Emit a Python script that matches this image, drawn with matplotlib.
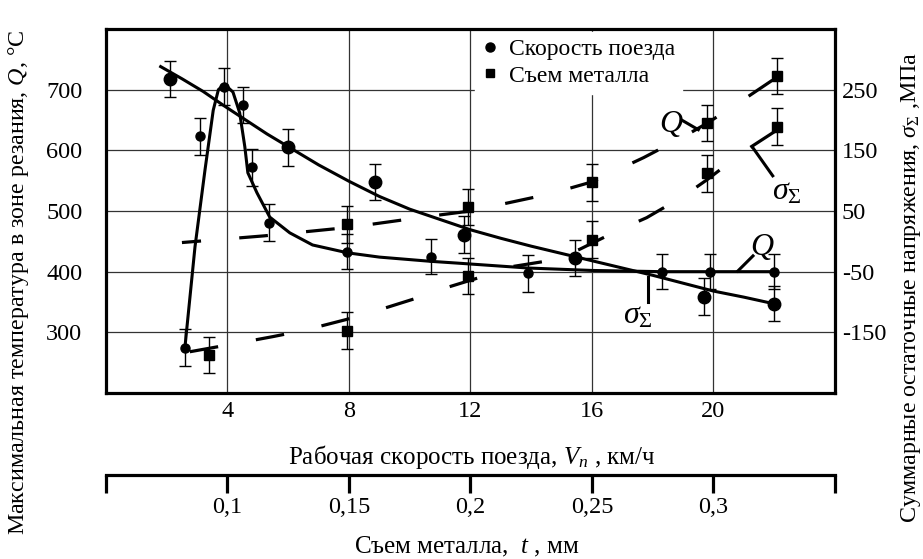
import numpy as np
import matplotlib.pyplot as plt
from matplotlib.lines import Line2D

plt.rcParams['font.family'] = ['Liberation Serif', 'DejaVu Serif']
plt.rcParams['mathtext.fontset'] = 'custom'
plt.rcParams['mathtext.rm'] = 'Liberation Serif'
plt.rcParams['mathtext.it'] = 'Liberation Serif:italic'
plt.rcParams['axes.unicode_minus'] = False

# ---- circles: train speed V (km/h) ----
# temperature Q (deg C), small circles
v_q = [2.6, 3.1, 3.9, 4.5, 4.8, 5.35, 7.95, 10.7, 13.9, 18.3, 19.9, 22.0]
q_v = [275, 623, 705, 675, 572, 481, 433, 425, 397, 400, 400, 400]
q_v_err = [30, 30, 30, 30, 30, 30, 29, 29, 30, 29, 29, 29]
# residual stress sigma (MPa), large circles
v_s = [2.1, 6.0, 8.85, 11.8, 15.45, 19.7, 22.0]
s_v = [268, 155, 98, 11, -27, -91, -103]
s_v_err = [30, 30, 30, 30, 30, 30, 29]

# fitted curves
v_q_curve = [2.6, 2.93, 3.26, 3.53, 3.7, 3.9, 4.18, 4.4, 4.57, 4.67, 4.97, 5.39,
             6.05, 6.8, 7.96, 9.0, 10.7, 11.6, 13.9, 16.0, 18.3, 22.0]
q_curve = [276, 441, 568, 666, 700, 709, 696, 662, 606, 563, 530, 490,
           464, 444, 431, 424, 417, 414, 406, 402, 400, 400]
v_s_curve = [1.8, 2.5, 3.2, 3.9, 4.6, 5.3, 6.0, 7.0, 8.0, 9.0, 10.0, 11.0, 12.0,
             13.0, 14.0, 15.0, 16.0, 17.0, 18.0, 19.0, 20.0, 21.0, 22.0]
s_curve = [288, 268, 247, 223, 200, 177, 156, 126, 99, 74, 53, 36, 19,
           5, -8, -20, -32, -44, -56, -69, -82, -92, -103]

# ---- squares: metal removal t (mm) ----
t_q = [0.149, 0.199, 0.25, 0.2975, 0.326]
q_t = [478, 507, 547, 645, 723]
q_t_err = [30, 30, 30, 30, 30]
t_s = [0.0925, 0.149, 0.199, 0.25, 0.2975, 0.326]
s_t = [-187, -147, -57, 3, 112, 189]
s_t_err = [30, 30, 30, 30, 30, 30]

t_q_curve = [0.08125, 0.115, 0.15, 0.1825, 0.2, 0.215, 0.2325, 0.25, 0.27125,
             0.2875, 0.2975, 0.3125, 0.32625]
q_t_curve = [448, 459, 473, 491, 500, 513, 528, 548, 588, 622, 645, 684, 721]
t_s_curve = [0.0845, 0.10125, 0.11875, 0.13125, 0.14875, 0.16, 0.1775, 0.18875,
             0.205, 0.215, 0.23375, 0.245, 0.26125, 0.2725, 0.2875, 0.2975,
             0.3125, 0.3275]
s_t_curve = [-182, -170, -157, -147, -129, -116, -94, -78, -58, -43, -31, -13,
             19, 39, 74, 102, 148, 187]

v_ticks = [4, 8, 12, 16, 20]
q_ticks = [300, 400, 500, 600, 700]
s_ticks = [-150, -50, 50, 150, 250]
t_ticks = [0.05, 0.1, 0.15, 0.2, 0.25, 0.3, 0.35]
t_labels = ['', '0,1', '0,15', '0,2', '0,25', '0,3', '']

W, H = 923, 559
fig = plt.figure(figsize=(W / 100, H / 100), dpi=100)
L, R, T, B = 106, 835, 29, 393
pos = [L / W, 1 - B / H, (R - L) / W, (B - T) / H]
FS = 17.5

ax = fig.add_axes(pos)
ax.set_xlim(0, 24)
ax.set_ylim(200, 800)
ax.set_xticks(v_ticks)
ax.set_yticks(q_ticks)
ax.grid(True, color='#333333', lw=0.9)
ax.tick_params(length=0, labelsize=FS)
ax.tick_params(axis='y', pad=17)
ax.tick_params(axis='x', pad=6)
for sp in ax.spines.values():
    sp.set_linewidth(2.3)

axr = ax.twinx()
axr.set_ylim(-250, 350)
axr.set_yticks(s_ticks)
axr.tick_params(length=0, labelsize=FS, pad=5)
for sp in axr.spines.values():
    sp.set_visible(False)

# overlays for the t scale
axtq = fig.add_axes(pos, frameon=False)
axtq.set_xlim(0.05, 0.35)
axtq.set_ylim(200, 800)
axtq.axis('off')
axts = fig.add_axes(pos, frameon=False)
axts.set_xlim(0.05, 0.35)
axts.set_ylim(-250, 350)
axts.axis('off')

eb = dict(color='k', ecolor='k', elinewidth=1.0, capsize=4, capthick=1.0, ls='none')

ax.plot(v_q_curve, q_curve, color='k', lw=2.2)
ax.errorbar(v_q, q_v, yerr=q_v_err, fmt='o', ms=6.5, **eb)
axr.plot(v_s_curve, s_curve, color='k', lw=2.2)
axr.errorbar(v_s, s_v, yerr=s_v_err, fmt='o', ms=9, **eb)

axtq.plot(t_q_curve, q_t_curve, color='k', lw=2.3, ls=(3, (9, 12)))
axtq.errorbar(t_q, q_t, yerr=q_t_err, fmt='s', ms=7.5, **eb)
axts.plot(t_s_curve, s_t_curve, color='k', lw=2.3, ls=(0, (9, 12)))
axts.errorbar(t_s, s_t, yerr=s_t_err, fmt='s', ms=7.5, **eb)

# curve labels
lab = dict(fontsize=23, ha='center', va='center')
ax.text(18.6, 644, '$Q$', **lab)
ax.plot([18.95, 19.5], [650, 634], color='k', lw=2.2)
ax.text(22.4, 531, r'$\sigma_{\Sigma}$', **lab)
ax.plot([21.3, 21.95], [604, 558], color='k', lw=2.2)
ax.text(21.6, 441, '$Q$', **lab)
ax.plot([20.8, 21.3], [401, 426], color='k', lw=2.2)
ax.text(17.5, 327, r'$\sigma_{\Sigma}$', **lab)
ax.plot([17.85, 17.85], [391, 350], color='k', lw=2.2)

handles = [Line2D([], [], color='k', marker='o', ls='none', ms=6.5),
           Line2D([], [], color='k', marker='s', ls='none', ms=6)]
leg = ax.legend(handles, ['Скорость поезда', 'Съем металла'], loc='upper left',
                bbox_to_anchor=(0.49, 1.025), fontsize=17, frameon=True,
                fancybox=False, framealpha=1, edgecolor='white',
                handlelength=0.7, handletextpad=0.45, labelspacing=0.2,
                borderpad=0.3)
leg.set_zorder(2.4)

# t scale axis
axt = fig.add_axes([L / W, 1 - 475 / H, (R - L) / W, 0.0005])
axt.set_xlim(0.05, 0.35)
axt.set_xticks(t_ticks)
axt.set_xticklabels(t_labels)
axt.set_yticks([])
axt.patch.set_visible(False)
for s in ['top', 'left', 'right']:
    axt.spines[s].set_visible(False)
axt.spines['bottom'].set_linewidth(2.3)
axt.tick_params(axis='x', direction='out', length=13, width=2.3, labelsize=FS, pad=3)

fig.text(472 / W, 1 - 457 / H, 'Рабочая скорость поезда, $V_n$ , км/ч',
         fontsize=18, ha='center', va='center')
fig.text(467 / W, 1 - 547 / H, 'Съем металла,  $t$ , мм',
         fontsize=18, ha='center', va='center')
fig.text(19 / W, 1 - 282 / H, 'Максимальная температура в зоне резания, $Q$, °C',
         fontsize=17.3, rotation=90, ha='center', va='center')
fig.text(911 / W, 1 - 287 / H, r'Суммарные остаточные напряжения, $\sigma_{\Sigma}$ ,МПа',
         fontsize=17.3, rotation=90, ha='center', va='center')

fig.savefig('out.png', dpi=100)
